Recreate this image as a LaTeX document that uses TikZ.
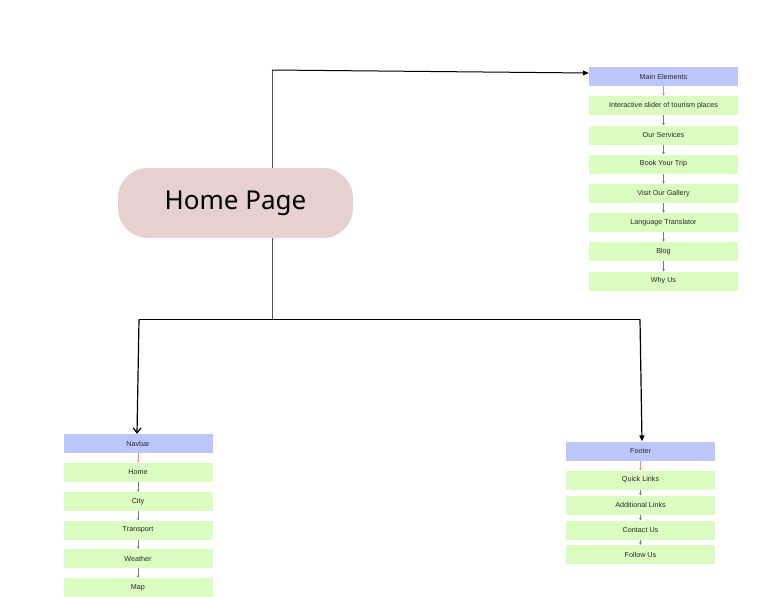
\documentclass[tikz,border=0pt]{standalone}
\usepackage{fontspec}
\setmainfont{Noto Sans}
\newfontfamily\smallfont{Liberation Sans}
\usetikzlibrary{arrows.meta}
\definecolor{hdr}{HTML}{BCC6FC}
\definecolor{itm}{HTML}{DCFDC1}
\definecolor{pill}{HTML}{E6D0D0}
\definecolor{pinkarr}{HTML}{F08A8A}
\definecolor{grayarr}{HTML}{555555}
\definecolor{lgray}{HTML}{7A7A7A}
\tikzset{
  box/.style={minimum width=149pt, minimum height=19pt, inner sep=0pt, font=\smallfont\fontsize{7.2}{8}\selectfont, text=black!85},
  hdrbox/.style={box, fill=hdr},
  itembox/.style={box, fill=itm},
  sarrow/.style={-{Straight Barb[length=2pt,width=2.5pt]}, lgray, line width=0.45pt},
  parrow/.style={-{Straight Barb[length=2pt,width=2.5pt]}, pinkarr, line width=0.45pt},
  mainline/.style={black, line width=1.2pt},
}
\begin{document}
\begin{tikzpicture}[x=1pt,y=-1pt]
\useasboundingbox (0,0) rectangle (769,597);
\fill[white] (0,0) rectangle (769,597);
% home
\node[fill=pill, rounded corners=30pt, minimum width=235pt, minimum height=70pt, inner sep=0pt, font=\fontsize{26}{30}\selectfont] (home) at (235.5,203) {Home Page};
% right column
\node[hdrbox] (main) at (663.5,76.5) {Main Elements};
\node[itembox] (m1) at (663.5,105.5) {Interactive slider of tourism places};
\node[itembox] (m2) at (663.5,135) {Our Services};
\node[itembox] (m3) at (663.5,164) {Book Your Trip};
\node[itembox] (m4) at (663.5,193.5) {Visit Our Gallery};
\node[itembox] (m5) at (663.5,222.5) {Language Translator};
\node[itembox] (m6) at (663.5,251.5) {Blog};
\node[itembox] (m7) at (663.5,281) {Why Us};
\draw[parrow] (main) -- (m1);
\foreach \a/\b in {m1/m2,m2/m3,m3/m4,m4/m5,m5/m6,m6/m7}{\draw[sarrow] (\a) -- (\b);}
% left column
\node[hdrbox] (nav) at (138,443.5) {Navbar};
\node[itembox] (n1) at (138,472.5) {Home};
\node[itembox] (n2) at (138,501.5) {City};
\node[itembox] (n3) at (138,530) {Transport};
\node[itembox] (n4) at (138,558.5) {Weather};
\node[itembox] (n5) at (138,587.5) {Map};
\draw[parrow] (nav) -- (n1);
\foreach \a/\b in {n1/n2,n2/n3,n3/n4,n4/n5}{\draw[sarrow] (\a) -- (\b);}
% footer column
\node[hdrbox] (foot) at (640.5,451) {Footer};
\node[itembox] (f1) at (640.5,480) {Quick Links};
\node[itembox] (f2) at (640.5,505) {Additional Links};
\node[itembox] (f3) at (640.5,530) {Contact Us};
\node[itembox] (f4) at (640.5,554.5) {Follow Us};
\draw[parrow] (foot) -- (f1);
\foreach \a/\b in {f1/f2,f2/f3,f3/f4}{\draw[sarrow] (\a) -- (\b);}
% connectors
\coordinate (tc) at (272,70);
\coordinate (bc) at (272,319.5);
\coordinate (bl) at (139,319.5);
\coordinate (br) at (640,319.5);
\draw[grayarr, line width=0.8pt] (home.north -| tc) -- (tc);
\draw[black, line width=1pt, -{Triangle[length=6pt,width=5pt]}] (tc) -- ([yshift=3.5pt]main.west);
\draw[grayarr, line width=0.8pt] (home.south -| bc) -- (bc);
\draw[mainline] (bl) -- (br);
\draw[mainline, -{Straight Barb[length=5pt,width=8pt]}] (bl) -- ([xshift=-1pt]nav.north);
\draw[mainline, -{Triangle[length=6pt,width=5pt]}] (br) -- ([xshift=1.5pt]foot.north);
\end{tikzpicture}
\end{document}
